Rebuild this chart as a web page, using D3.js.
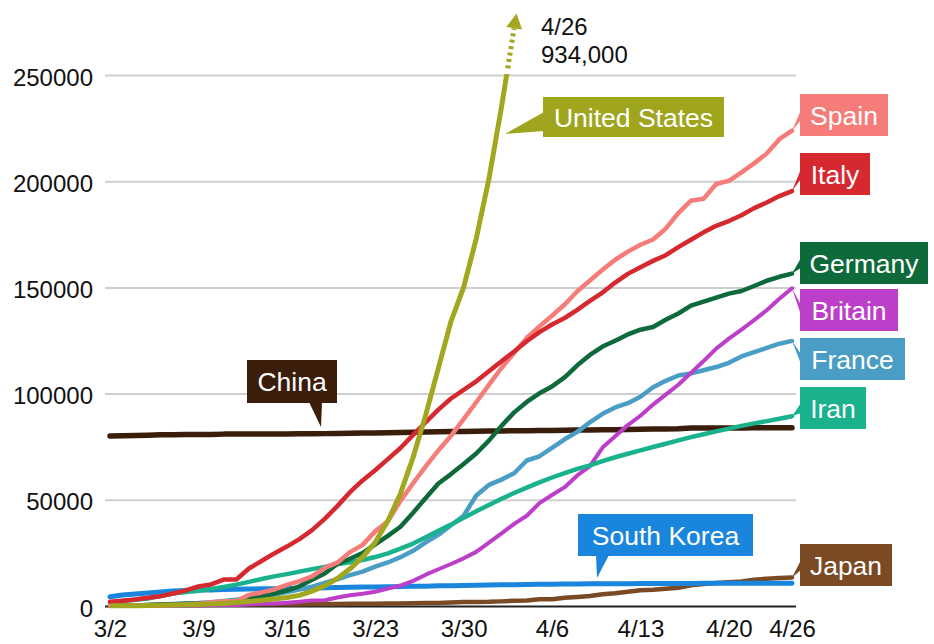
<!DOCTYPE html>
<html>
<head>
<meta charset="utf-8">
<script src="https://cdn.jsdelivr.net/npm/d3@7"></script>
<style>
body { margin: 0; background: #fff; }
svg { display: block; font-family: "Liberation Sans", Arial, Helvetica, sans-serif; }
</style>
</head>
<body>
<svg id="chart" width="934" height="644"></svg>
<script>
// daily cumulative confirmed cases, 3/2 .. 4/25
const dates = d3.timeDay.range(new Date(2020, 2, 2), new Date(2020, 3, 26)).map(d3.timeFormat("%-m/%-d"))

const xTickDates = ["3/2", "3/9", "3/16", "3/23", "3/30", "4/6", "4/13", "4/20", "4/25"]
const xTickLabels = ["3/2", "3/9", "3/16", "3/23", "3/30", "4/6", "4/13", "4/20", "4/26"]
const yTicks = [0, 50000, 100000, 150000, 200000, 250000]

const china = [80026, 80151, 80271, 80422, 80573, 80652, 80699, 80735, 80757, 80921,
  80932, 80945, 80977, 81003, 81033, 81058, 81102, 81156, 81250, 81305,
  81435, 81498, 81591, 81661, 81782, 81897, 81999, 82122, 82198, 82279,
  82361, 82432, 82511, 82543, 82602, 82665, 82718, 82809, 82883, 82941,
  83014, 83134, 83213, 83306, 83356, 83403, 83760, 83787, 83805, 83817,
  83853, 83868, 83884, 83899, 83909]
const southKorea = [4335, 5186, 5621, 6088, 6593, 7041, 7314, 7478, 7513, 7755,
  7869, 7979, 8086, 8162, 8236, 8320, 8413, 8565, 8652, 8799,
  8897, 8961, 9037, 9137, 9241, 9332, 9478, 9583, 9661, 9786,
  9887, 9976, 10062, 10156, 10237, 10284, 10331, 10384, 10423, 10450,
  10480, 10512, 10537, 10564, 10591, 10613, 10635, 10653, 10661, 10674,
  10683, 10694, 10702, 10708, 10718]
const japan = [274, 293, 331, 360, 420, 461, 502, 511, 581, 639,
  639, 701, 773, 839, 839, 878, 889, 924, 963, 1007,
  1086, 1086, 1128, 1193, 1307, 1387, 1468, 1693, 1866, 1866,
  1953, 2178, 2495, 2617, 3139, 3139, 3906, 4257, 4667, 5530,
  6005, 6748, 7370, 7645, 8100, 8626, 9787, 10296, 10797, 11135,
  11512, 12368, 12829, 13231, 13441]
const italy = [2036, 2502, 3089, 3858, 4636, 5883, 7375, 9172, 10149, 12462,
  12462, 17660, 21157, 24747, 27980, 31506, 35713, 41035, 47021, 53578,
  59138, 63927, 69176, 74386, 80589, 86498, 92472, 97689, 101739, 105792,
  110574, 115242, 119827, 124632, 128948, 132547, 135586, 139422, 143626, 147577,
  152271, 156363, 159516, 162488, 165155, 168941, 172434, 175925, 178972, 181228,
  183957, 187327, 189973, 192994, 195351]
const spain = [120, 165, 222, 259, 400, 500, 673, 1073, 1695, 2277,
  2277, 5232, 6391, 7798, 9942, 11748, 13910, 17963, 20410, 25374,
  28768, 35136, 39885, 49515, 57786, 65719, 73235, 80110, 87956, 95923,
  104118, 112065, 119199, 126168, 131646, 136675, 141942, 148220, 153222, 158273,
  163027, 166831, 170099, 172541, 177644, 184948, 190839, 191726, 198674, 200210,
  204178, 208389, 213024, 219764, 223759]
const germany = [159, 196, 262, 482, 670, 799, 1040, 1176, 1457, 1908,
  2078, 3675, 4585, 5795, 7272, 9257, 12327, 15320, 19848, 22213,
  24873, 29056, 32986, 37323, 43938, 50871, 57695, 62095, 66885, 71808,
  77872, 84794, 91159, 96092, 100123, 103374, 107663, 113296, 118181, 122171,
  124908, 127854, 130072, 131359, 134753, 137698, 141397, 143342, 145184, 147065,
  148291, 150648, 153129, 154999, 156513]
const britain = [40, 51, 86, 116, 164, 207, 274, 322, 384, 459,
  459, 802, 1144, 1145, 1551, 1960, 2642, 2716, 4014, 5067,
  5745, 6726, 8164, 9640, 11812, 14745, 17312, 19780, 22453, 25481,
  29865, 34173, 38689, 42477, 48436, 52279, 55949, 61474, 65872, 74605,
  79874, 85206, 89570, 94845, 99483, 104145, 109769, 115314, 121172, 125856,
  130172, 134638, 139246, 144640, 149569]
const france = [200, 210, 290, 420, 650, 950, 1150, 1400, 1800, 2300,
  2900, 3700, 4500, 5400, 6600, 7700, 9100, 10900, 12600, 14500,
  16200, 18500, 20500, 23000, 26000, 30000, 33500, 38000, 42500, 52000,
  57000, 59500, 62500, 68500, 70500, 74500, 78500, 82000, 86500, 90500,
  93500, 95500, 98500, 103000, 106000, 108500, 109500, 111000, 112500, 114500,
  117500, 119500, 121500, 123500, 124800]
const iran = [1501, 2336, 2922, 3513, 4747, 5823, 6566, 7161, 8042, 9000,
  10075, 11364, 12729, 13938, 14991, 16169, 17361, 18407, 19644, 20610,
  21638, 23049, 24811, 27017, 29406, 32332, 35408, 38309, 41495, 44605,
  47593, 50468, 53183, 55743, 58226, 60500, 62589, 64586, 66220, 68192,
  70029, 71686, 73303, 74877, 76389, 77995, 79494, 80868, 82211, 83505,
  84802, 85996, 87026, 88194, 89328]
// US runs off the top of the chart after 4/3
const unitedStates = [100, 120, 160, 220, 300, 420, 540, 700, 900, 1200,
  1600, 2100, 2700, 3300, 4000, 5000, 7000, 9500, 13000, 17500,
  23000, 30000, 40000, 53000, 70000, 90000, 112000, 134000, 150000, 173000,
  201000, 235000, 272000]
const usNote = ["4/26", "934,000"]

// draw order (bottom first)
const series = [
  {name: "China", values: china, color: "#3b1d0c", width: 5.5},
  {name: "Japan", values: japan, color: "#7a4a25", width: 4.5},
  {name: "South Korea", values: southKorea, color: "#1a85dd", width: 5},
  {name: "France", values: france, color: "#4a9dc5", width: 4.5},
  {name: "Britain", values: britain, color: "#bd3ec8", width: 4},
  {name: "Iran", values: iran, color: "#19b28d", width: 4.5},
  {name: "Germany", values: germany, color: "#0e6a3b", width: 4.5},
  {name: "Spain", values: spain, color: "#f57c78", width: 4.5},
  {name: "Italy", values: italy, color: "#d6282f", width: 4.5},
]

const svg = d3.select("#chart")
const x = d3.scalePoint().domain(dates).range([110, 792])
const y = d3.scaleLinear().domain([0, 250000]).range([606, 75])

// grid + y labels
const yAxis = svg.append("g")
  .attr("transform", "translate(796,0)")
  .call(d3.axisLeft(y).tickValues(yTicks).tickSize(691).tickPadding(12).tickFormat(d3.format("d")))
yAxis.select(".domain").remove()
yAxis.selectAll(".tick line").attr("stroke", d => d == 0 ? "#222" : "#cfcfcf").attr("stroke-width", 2)
yAxis.selectAll(".tick text").attr("font-size", 24).attr("fill", "#111").attr("font-family", null).attr("dy", "0.42em")

// x labels
const xAxis = svg.append("g")
  .attr("transform", "translate(0,606)")
  .call(d3.axisBottom(x).tickValues(xTickDates).tickSize(0).tickPadding(14)
    .tickFormat((d, i) => xTickLabels[i]))
xAxis.select(".domain").remove()
xAxis.selectAll(".tick text").attr("font-size", 24).attr("fill", "#111").attr("font-family", null)

const line = d3.line().x((d, i) => x(dates[i])).y(d => y(d))

svg.append("g").selectAll("path").data(series).join("path")
  .attr("d", d => line(d.values))
  .attr("fill", "none")
  .attr("stroke", d => d.color)
  .attr("stroke-width", d => d.width)
  .attr("stroke-linejoin", "round")
  .attr("stroke-linecap", "round")

// United States: solid up to the top gridline, dotted beyond, with arrow
const usColor = "#a3a71f"
const defs = svg.append("defs")
defs.append("clipPath").attr("id", "below").append("rect")
  .attr("x", 0).attr("y", y(250000) - 1).attr("width", 934).attr("height", 644)
defs.append("clipPath").attr("id", "above").append("rect")
  .attr("x", 0).attr("y", 0).attr("width", 934).attr("height", y(250000) - 6)

svg.append("path")
  .attr("d", line(unitedStates))
  .attr("clip-path", "url(#below)")
  .attr("fill", "none").attr("stroke", usColor).attr("stroke-width", 5)
  .attr("stroke-linejoin", "round")

const n = unitedStates.length
const p0 = [x(dates[n - 2]), y(unitedStates[n - 2])]
const p1 = [x(dates[n - 1]), y(unitedStates[n - 1])]
svg.append("path")
  .attr("d", d3.line()([p0, p1]))
  .attr("clip-path", "url(#above)")
  .attr("fill", "none").attr("stroke", usColor).attr("stroke-width", 5)
  .attr("stroke-dasharray", "3,3.5")

const len = Math.hypot(p1[0] - p0[0], p1[1] - p0[1])
const ux = (p1[0] - p0[0]) / len, uy = (p1[1] - p0[1]) / len
svg.append("path")
  .attr("d", d3.line()([
    [p1[0] + ux * 15, p1[1] + uy * 15],
    [p1[0] - uy * 8, p1[1] + ux * 8],
    [p1[0] + uy * 8, p1[1] - ux * 8]
  ]) + "Z")
  .attr("fill", usColor)

svg.append("g").selectAll("text").data(usNote).join("text")
  .attr("x", 541).attr("y", (d, i) => 35 + i * 28)
  .attr("font-size", 24).attr("fill", "#111")
  .text(d => d)

// name boxes
const lastX = x(dates[dates.length - 1])
const labels = [
  {name: "United States", color: "#a0a51e", x: 543, y: 97, w: 181, h: 40,
    pointer: [[544, 112], [505, 134], [544, 131]]},
  {name: "Spain", color: "#f57c78", x: 800, y: 94, w: 88, values: spain},
  {name: "Italy", color: "#d6282f", x: 800, y: 153, w: 70, values: italy},
  {name: "Germany", color: "#0e6a3b", x: 800, y: 242, w: 128, values: germany},
  {name: "Britain", color: "#bd3ec8", x: 800, y: 289, w: 98, values: britain},
  {name: "France", color: "#4a9dc5", x: 800, y: 338, w: 105, values: france},
  {name: "Iran", color: "#19b28d", x: 800, y: 387, w: 66, values: iran},
  {name: "China", color: "#3b1d0c", x: 247, y: 360, w: 90, h: 43,
    pointer: [[309, 402], [322, 402], [321, 427]]},
  {name: "South Korea", color: "#1a85dd", x: 578, y: 514, w: 175,
    pointer: [[596, 555], [609, 555], [597, 578]]},
  {name: "Japan", color: "#7a4a25", x: 800, y: 544, w: 92, values: japan},
]

const lab = svg.append("g").selectAll("g").data(labels).join("g")

lab.append("path")
  .attr("d", d => {
    let pts = d.pointer
    if (!pts) {
      let v = d.values[d.values.length - 1]
      let cy = d.y + 21
      pts = [[lastX, y(v)], [d.x + 1, cy - 5], [d.x + 1, cy + 5]]
    }
    return d3.line()(pts) + "Z"
  })
  .attr("fill", d => d.color)

lab.append("rect")
  .attr("x", d => d.x).attr("y", d => d.y)
  .attr("width", d => d.w).attr("height", d => d.h || 42)
  .attr("fill", d => d.color)

lab.append("text")
  .attr("x", d => d.x + d.w / 2)
  .attr("y", d => d.y + (d.h || 42) / 2 + 9.5)
  .attr("text-anchor", "middle")
  .attr("font-size", 26.5)
  .attr("fill", "#fff")
  .text(d => d.name)
</script>
</body>
</html>
